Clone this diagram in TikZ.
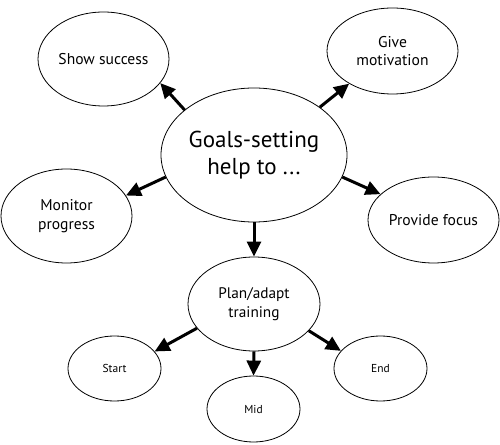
\documentclass[tikz,border=0pt]{standalone}
\usepackage{fontspec}
\setmainfont{PT Sans}
\usetikzlibrary{shapes.geometric,arrows.meta}
\begin{document}
\begin{tikzpicture}[x=1pt,y=1pt,
  bub/.style={draw,ellipse,line width=0.8pt,inner sep=0pt,align=center},
  big/.style={bub,minimum width=186pt,minimum height=134pt,font=\fontsize{23}{27}\selectfont},
  mid/.style={bub,minimum width=131pt,font=\fontsize{15.6}{18.5}\selectfont},
  small/.style={bub,minimum width=93pt,minimum height=65pt,font=\fontsize{11.5}{13}\selectfont},
  arr/.style={line width=3pt,-{Triangle[length=15pt,width=14pt]}}]
\useasboundingbox (0,0) rectangle (500,444);
\node[big] (c) at (254,289) {Goals-setting\\help to ...};
\node[mid,minimum height=94pt] (s) at (103.5,385) {Show success};
\node[mid,minimum height=94pt] (m) at (66.5,228) {Monitor\\progress};
\node[mid,minimum height=86pt] (g) at (392.5,393) {Give\\motivation};
\node[mid,minimum height=86pt] (f) at (433.5,224) {Provide focus};
\node[mid,minimum width=132pt,minimum height=94pt,font=\fontsize{15.3}{19}\selectfont] (p) at (254,140) {Plan/adapt\\training};
\node[small] (st) at (114.5,75.5) {Start};
\node[small,minimum height=66pt] (mi) at (253.5,35) {Mid};
\node[small] (e) at (380.5,75.5) {End};
\draw[arr] (c.147.6) -- (s.-23.8);
\draw[arr] (c.194.6) -- (m.19.4);
\draw[arr] (c.36.9) -- (g.217.2);
\draw[arr] (c.-14) -- (f.154.5);
\draw[arr] (c.270) -- (p.90);
\draw[arr] (p.203.7) -- (st.23.9);
\draw[arr] (p.270) -- (mi.90);
\draw[arr] (p.-26.1) -- (e.156.1);
\end{tikzpicture}
\end{document}
